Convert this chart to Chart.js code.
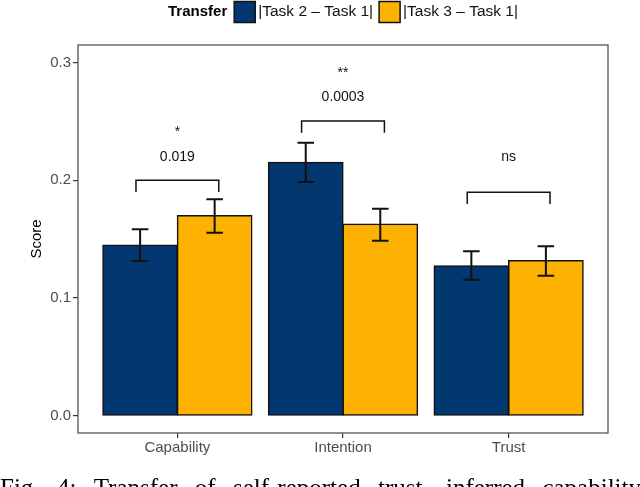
<!DOCTYPE html>
<html>
<head>
<meta charset="utf-8">
<script src="https://cdn.jsdelivr.net/npm/chart.js@4.4.0/dist/chart.umd.min.js"></script>
<style>
  body { margin: 0; background: #fff; }
  #wrap { position: relative; width: 640px; height: 487px; overflow: hidden; }
  #caption {
    position: absolute; left: 0; top: 475px; width: 641px;
    display: flex; justify-content: space-between; white-space: nowrap;
    font: 25px/1 "Liberation Serif", "DejaVu Serif", serif; color: #000;
  }
</style>
</head>
<body>
<div id="wrap">
  <canvas id="grafico" width="640" height="487"></canvas>
  <div id="caption"><span>Fig.</span><span>4:</span><span>Transfer</span><span>of</span><span>self-reported</span><span>trust,</span><span>inferred</span><span>capability</span></div>
</div>
<script>
// Datos
const categorias = ["Capability", "Intention", "Trust"];
const serieNombres = ["|Task 2 \u2013 Task 1|", "|Task 3 \u2013 Task 1|"];
const task2 = [0.145, 0.2153, 0.1274];
const task2Bajo = [0.1314, 0.1986, 0.1156];
const task2Alto = [0.1584, 0.232, 0.1397];
const task3 = [0.170, 0.1629, 0.1317];
const task3Bajo = [0.1555, 0.1487, 0.1189];
const task3Alto = [0.184, 0.1759, 0.1439];
const corcheteY = [0.2, 0.2504, 0.1898];
const pValores = ["0.019", "0.0003", ""];
const estrellas = ["*", "**", "ns"];
const yTicks = [0, 0.1, 0.2, 0.3];

const colores = ["#03376f", "#fdb100"];
const fuente = "'Liberation Sans', Arial, sans-serif";
const gris = "#4d4d4d";

// Barras de error, corchetes, borde del panel y leyenda
const extras = {
  id: "extras",
  afterDatasetsDraw(chart) {
    const { ctx, scales: { x, y } } = chart;
    ctx.save();
    ctx.strokeStyle = "#111";
    ctx.lineWidth = 2;
    const w = x.getPixelForValue(0.05) - x.getPixelForValue(0);
    [[task2Bajo, task2Alto], [task3Bajo, task3Alto]].forEach(([bajo, alto], d) => {
      chart.getDatasetMeta(d).data.forEach((bar, i) => {
        const yl = y.getPixelForValue(bajo[i]);
        const yh = y.getPixelForValue(alto[i]);
        ctx.beginPath();
        ctx.moveTo(bar.x, yl); ctx.lineTo(bar.x, yh);
        ctx.moveTo(bar.x - w, yl); ctx.lineTo(bar.x + w, yl);
        ctx.moveTo(bar.x - w, yh); ctx.lineTo(bar.x + w, yh);
        ctx.stroke();
      });
    });

    // corchetes de significancia
    ctx.lineWidth = 1.5;
    ctx.fillStyle = "#111";
    ctx.textAlign = "center";
    ctx.textBaseline = "middle";
    ctx.font = "14px " + fuente;
    categorias.forEach((c, i) => {
      const x1 = x.getPixelForValue(i - 0.25);
      const x2 = x.getPixelForValue(i + 0.25);
      const yc = y.getPixelForValue(corcheteY[i]);
      const yp = y.getPixelForValue(corcheteY[i] - 0.01);
      ctx.beginPath();
      ctx.moveTo(x1, yp); ctx.lineTo(x1, yc); ctx.lineTo(x2, yc); ctx.lineTo(x2, yp);
      ctx.stroke();
      const xm = x.getPixelForValue(i);
      if (pValores[i]) {
        ctx.fillText(pValores[i], xm, y.getPixelForValue(corcheteY[i] + 0.02));
        ctx.fillText(estrellas[i], xm, y.getPixelForValue(corcheteY[i] + 0.041));
      } else {
        ctx.fillText(estrellas[i], xm, y.getPixelForValue(corcheteY[i] + 0.03));
      }
    });
    ctx.restore();
  },
  afterDraw(chart) {
    const { ctx, chartArea: a } = chart;
    ctx.save();
    ctx.strokeStyle = "#555";
    ctx.lineWidth = 1.3;
    ctx.strokeRect(a.left, a.top, a.right - a.left, a.bottom - a.top);

    // leyenda superior
    const yc = 12;
    const caja = 21;
    ctx.textBaseline = "middle";
    ctx.textAlign = "left";
    ctx.font = "bold 15px " + fuente;
    const tituloW = ctx.measureText("Transfer").width;
    ctx.font = "15.5px " + fuente;
    const textos = serieNombres.map(t => ctx.measureText(t).width);
    const total = tituloW + 7 + (caja + 3) * 2 + textos[0] + 6 + textos[1];
    let xx = (a.left + a.right) / 2 - total / 2;
    ctx.fillStyle = "#000";
    ctx.font = "bold 15px " + fuente;
    ctx.fillText("Transfer", xx, yc);
    xx += tituloW + 7;
    ctx.font = "15.5px " + fuente;
    serieNombres.forEach((t, i) => {
      ctx.fillStyle = colores[i];
      ctx.fillRect(xx, yc - caja / 2, caja, caja);
      ctx.strokeStyle = "#111";
      ctx.lineWidth = 1.5;
      ctx.strokeRect(xx, yc - caja / 2, caja, caja);
      xx += caja + 3;
      ctx.fillStyle = "#111";
      ctx.fillText(t, xx, yc);
      xx += textos[i] + 6;
    });
    ctx.restore();
  }
};

function cargarGrafico() {
  const ctx = document.getElementById("grafico");
  new Chart(ctx.getContext("2d"), {
    type: "bar",
    data: {
      datasets: [
        {
          label: serieNombres[0],
          data: task2.map((v, i) => ({ x: i, y: v })),
          backgroundColor: colores[0],
          borderColor: "#111",
          borderWidth: 1.5,
          borderSkipped: false,
          inflateAmount: 0.6,
          barPercentage: 1,
          categoryPercentage: 0.9
        },
        {
          label: serieNombres[1],
          data: task3.map((v, i) => ({ x: i, y: v })),
          backgroundColor: colores[1],
          borderColor: "#111",
          borderWidth: 1.5,
          borderSkipped: false,
          inflateAmount: 0.6,
          barPercentage: 1,
          categoryPercentage: 0.9
        }
      ]
    },
    options: {
      responsive: false,
      animation: false,
      layout: { padding: { top: 45, right: 32, left: 26, bottom: 0 } },
      plugins: {
        legend: { display: false },
        tooltip: { enabled: false }
      },
      scales: {
        x: {
          type: "linear",
          min: -0.6,
          max: 2.6,
          offset: false,
          afterBuildTicks: s => { s.ticks = categorias.map((c, i) => ({ value: i })); },
          afterFit: s => { s.height = 54; },
          ticks: {
            callback: v => categorias[v],
            font: { family: fuente, size: 15 },
            color: gris,
            padding: 1,
            autoSkip: false,
            maxRotation: 0
          },
          grid: { offset: false, drawOnChartArea: false, tickLength: 5, color: "#333", lineWidth: 1.2 },
          border: { display: false }
        },
        y: {
          min: -0.0147,
          max: 0.315,
          afterBuildTicks: s => { s.ticks = yTicks.map(v => ({ value: v })); },
          afterFit: s => { s.width = 52; },
          ticks: {
            callback: v => v.toFixed(1),
            font: { family: fuente, size: 15 },
            color: gris,
            padding: 2
          },
          grid: { drawOnChartArea: false, tickLength: 5, color: "#333", lineWidth: 1.2 },
          border: { display: false },
          title: {
            display: true,
            text: "Score",
            font: { family: fuente, size: 15 },
            color: "#000",
            padding: { top: 2, bottom: 0 }
          }
        }
      }
    },
    plugins: [extras]
  });
}

cargarGrafico();
</script>
</body>
</html>
